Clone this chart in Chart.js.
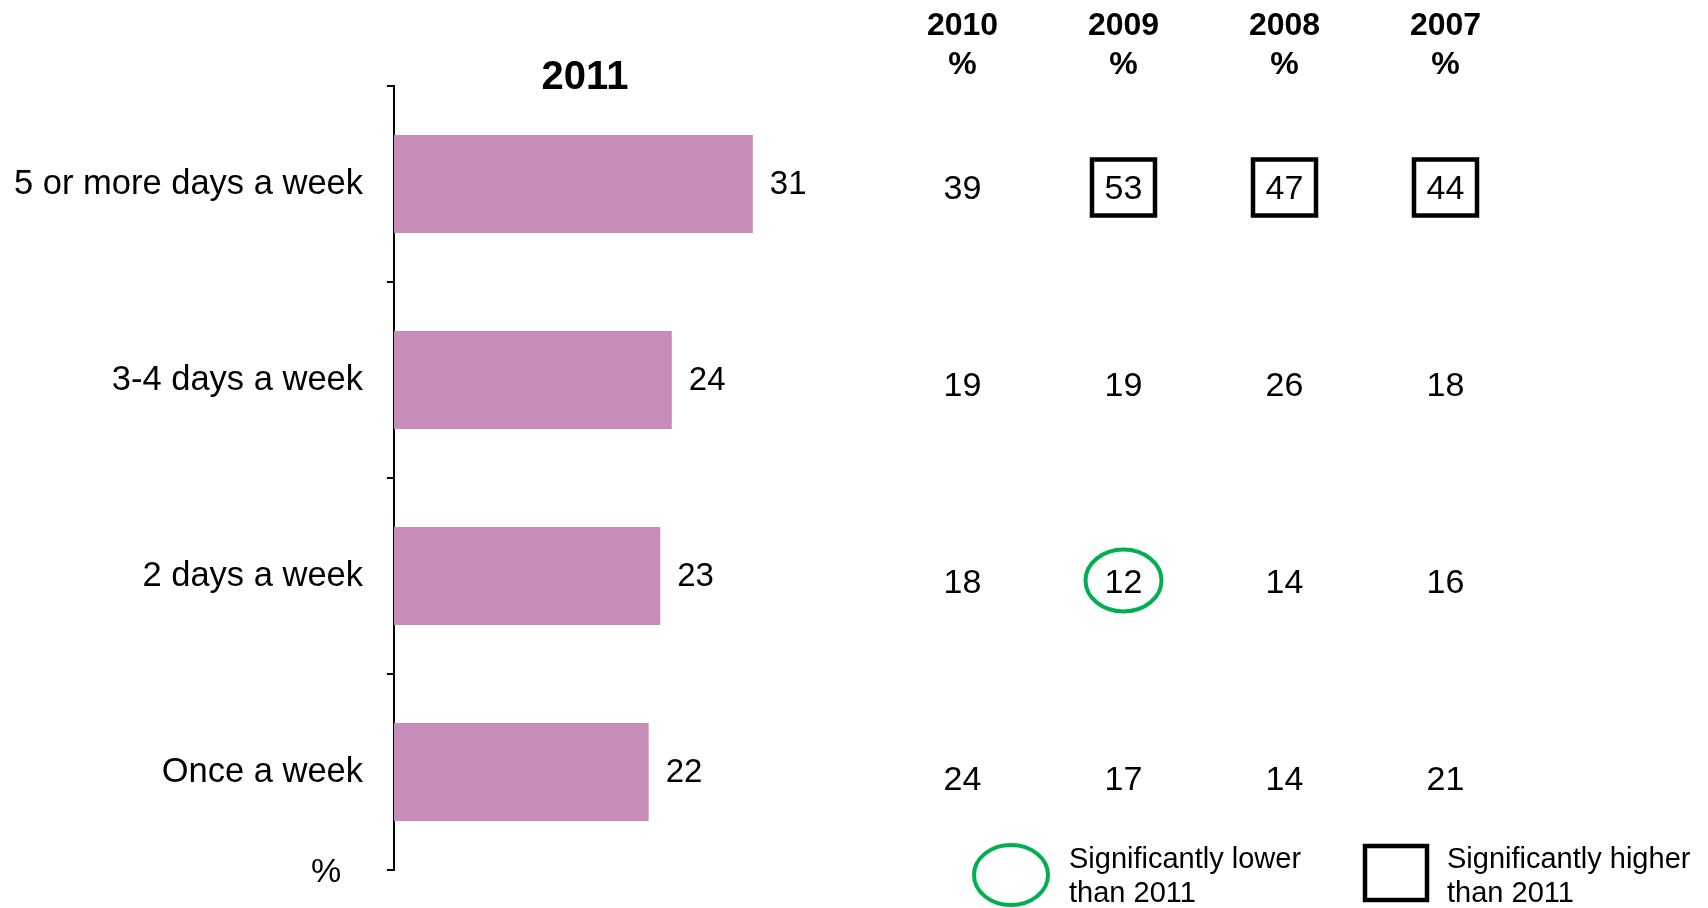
<!DOCTYPE html>
<html>
<head>
<meta charset="utf-8">
<title>Frequency 2011 vs previous years</title>
<script src="https://cdn.jsdelivr.net/npm/chart.js@4"></script>
<style>
body { margin: 0; background: #fff; }
#wrap { position: relative; width: 1708px; height: 908px; }
#barchart { position: absolute; left: 0; top: 0; }
#tablechart { position: absolute; left: 870px; top: 0; }
</style>
</head>
<body>
<div id="wrap">
    <canvas id="barchart" width="870" height="908"></canvas>
    <canvas id="tablechart" width="838" height="908"></canvas>
</div>
<script>
var categories = ['5 or more days a week', '3-4 days a week', '2 days a week', 'Once a week'];
var values2011 = [31, 24, 23, 22];

var years = ['2010', '2009', '2008', '2007'];
var values2010 = [39, 19, 18, 24];
var values2009 = [53, 19, 12, 17];
var values2008 = [47, 26, 14, 14];
var values2007 = [44, 18, 16, 21];

// 'higher' / 'lower' = significantly different from 2011
var sig2010 = ['', '', '', ''];
var sig2009 = ['higher', '', 'lower', ''];
var sig2008 = ['higher', '', '', ''];
var sig2007 = ['higher', '', '', ''];

var FONT = "'Liberation Sans', Arial, sans-serif";
var BAR_COLOR = '#C78DB8';
var GREEN = '#00B050';

Chart.defaults.font.family = FONT;
Chart.defaults.color = '#000';

var barLabels = {
    id: 'barLabels',
    afterDatasetsDraw: function (chart) {
        var ctx = chart.ctx;
        var meta = chart.getDatasetMeta(0);
        ctx.save();
        ctx.font = '33px ' + FONT;
        ctx.fillStyle = '#000';
        ctx.textAlign = 'left';
        ctx.textBaseline = 'middle';
        meta.data.forEach(function (bar, i) {
            ctx.fillText(chart.data.datasets[0].data[i], bar.x + 17, bar.y + 1);
        });
        // unit under the category labels
        ctx.textAlign = 'center';
        ctx.font = '34px ' + FONT;
        ctx.fillText('%', chart.chartArea.left - 68, chart.chartArea.bottom + 3);
        ctx.restore();
    }
};

new Chart(document.getElementById('barchart'), {
    type: 'bar',
    data: {
        labels: categories,
        datasets: [{
            data: values2011,
            backgroundColor: BAR_COLOR,
            barPercentage: 0.5,
            categoryPercentage: 1
        }]
    },
    options: {
        indexAxis: 'y',
        responsive: false,
        animation: false,
        events: [],
        layout: { padding: { top: 54, right: 94, bottom: 38, left: 0 } },
        plugins: {
            legend: { display: false },
            tooltip: { enabled: false },
            title: {
                display: true,
                text: '2011',
                fullSize: false,
                color: '#000',
                font: { size: 40, weight: 'bold', lineHeight: 1.2 },
                padding: { top: 0, bottom: -16 }
            }
        },
        scales: {
            x: { display: false, min: 0, max: 33 },
            y: {
                border: { display: true, color: '#000', width: 2 },
                grid: { display: true, drawOnChartArea: false, drawTicks: true, tickLength: 7, color: '#000', lineWidth: 2, offset: true },
                ticks: { font: { size: 34.5 }, color: '#000', padding: 24 },
                afterFit: function (scale) {
                    scale.width = 394;
                    scale.paddingTop = 0;
                    scale.paddingBottom = 0;
                }
            }
        }
    },
    plugins: [barLabels]
});

var yearValues = [values2010, values2009, values2008, values2007];
var yearSig = [sig2010, sig2009, sig2008, sig2007];

var tableSets = years.map(function (year, j) {
    return {
        label: year,
        data: yearValues[j].map(function (v, i) {
            return { x: year, y: categories[i] };
        }),
        pointRadius: 0,
        pointHoverRadius: 0
    };
});

function drawBox(ctx, x, y, w, h) {
    ctx.strokeStyle = '#000';
    ctx.lineWidth = 4.5;
    ctx.strokeRect(x - w / 2, y - h / 2, w, h);
}

function drawRing(ctx, x, y, rx, ry) {
    ctx.strokeStyle = GREEN;
    ctx.lineWidth = 4;
    ctx.beginPath();
    ctx.ellipse(x, y, rx, ry, 0, 0, Math.PI * 2);
    ctx.stroke();
}

var tableCells = {
    id: 'tableCells',
    afterDatasetsDraw: function (chart) {
        var ctx = chart.ctx;
        ctx.save();
        ctx.textAlign = 'center';
        ctx.textBaseline = 'middle';
        chart.data.datasets.forEach(function (ds, j) {
            var meta = chart.getDatasetMeta(j);
            meta.data.forEach(function (pt, i) {
                ctx.fillStyle = '#000';
                ctx.font = '34px ' + FONT;
                ctx.fillText(yearValues[j][i], pt.x, pt.y + 1);
                if (yearSig[j][i] == 'higher') drawBox(ctx, pt.x, pt.y - 1, 63, 56);
                if (yearSig[j][i] == 'lower') drawRing(ctx, pt.x, pt.y - 2, 38, 31);
            });
        });

        // legend
        var a = chart.chartArea;
        drawRing(ctx, a.left + 129, 875, 37, 30);
        drawBox(ctx, a.left + 514, 873, 62, 54);
        ctx.fillStyle = '#000';
        ctx.font = '29px ' + FONT;
        ctx.textAlign = 'left';
        ctx.fillText('Significantly lower', a.left + 187, 860);
        ctx.fillText('than 2011', a.left + 187, 894);
        ctx.fillText('Significantly higher', a.left + 565, 860);
        ctx.fillText('than 2011', a.left + 565, 894);
        ctx.restore();
    }
};

new Chart(document.getElementById('tablechart'), {
    type: 'scatter',
    data: { xLabels: years, yLabels: categories, datasets: tableSets },
    options: {
        responsive: false,
        animation: false,
        events: [],
        layout: { padding: { top: 4, right: 182, bottom: 30, left: 12 } },
        plugins: {
            legend: { display: false },
            tooltip: { enabled: false }
        },
        scales: {
            x: {
                type: 'category',
                labels: years,
                position: 'top',
                offset: true,
                grid: { display: false },
                border: { display: false },
                ticks: {
                    font: { size: 32, weight: 'bold', lineHeight: 1.2 },
                    color: '#000',
                    padding: -2,
                    maxRotation: 0,
                    autoSkip: false,
                    callback: function (value, index) { return [years[index], '%']; }
                },
                afterFit: function (scale) { scale.height = 86; }
            },
            y: { type: 'category', labels: categories, offset: true, display: false }
        }
    },
    plugins: [tableCells]
});
</script>
</body>
</html>
